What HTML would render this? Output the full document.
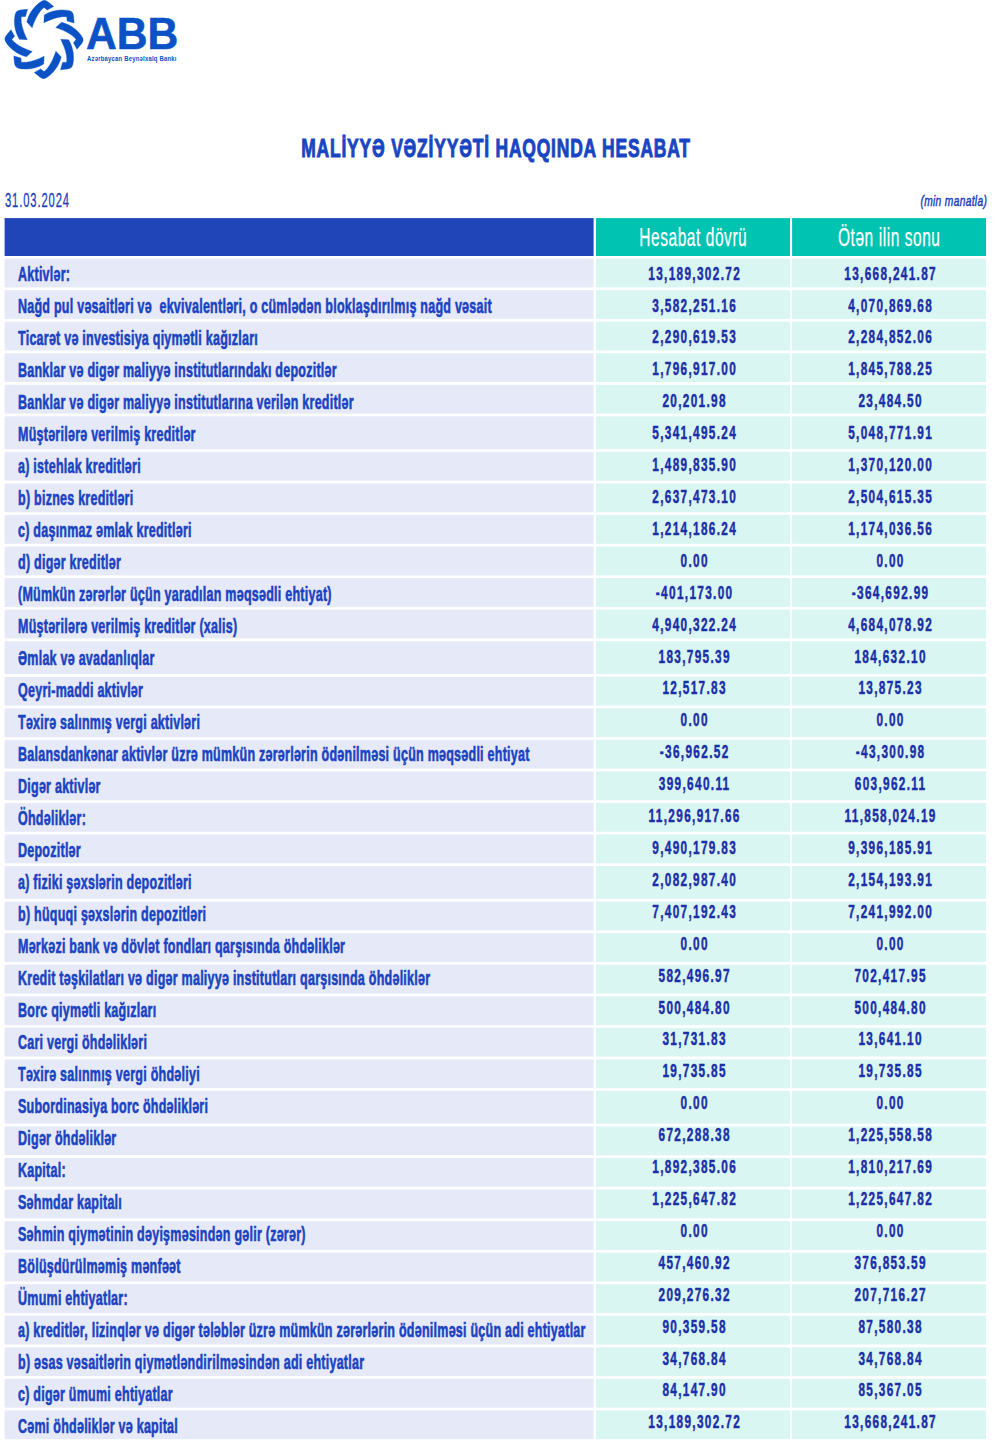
<!DOCTYPE html><html><head><meta charset="utf-8"><style>
html,body{margin:0;padding:0;background:#fff;}
body{width:1000px;height:1441px;position:relative;overflow:hidden;font-family:"Liberation Sans",sans-serif;}
.c{position:absolute;}
.h1{background:#1f45b8;}
.h2{background:#00c3b1;color:#fff;}
.l{background:#e6e9f7;}
.n{background:#daf6f3;}
.t{position:absolute;white-space:pre;font-weight:bold;-webkit-text-stroke:0.5px currentColor;}
.lt{-webkit-text-stroke:0.6px currentColor;letter-spacing:0.4px;left:18px;font-size:20px;line-height:1;color:#1a43c2;transform:scaleX(0.625);transform-origin:0 0;}
.nt{text-align:center;font-size:19px;line-height:1;color:#1a2fa8;transform:scaleX(0.62);letter-spacing:2.16px;text-indent:2.16px;-webkit-text-stroke:0.5px currentColor;}
.ht{-webkit-text-stroke:0.25px currentColor;letter-spacing:0.9px;text-indent:0.9px;text-align:center;font-size:25px;line-height:1;color:#fff;font-weight:normal;transform:scaleX(0.62);}
.title{-webkit-text-stroke:1.0px currentColor;letter-spacing:1.2px;position:absolute;left:-4px;width:1000px;text-align:center;top:134.8px;font-size:26px;line-height:1;font-weight:bold;color:#1a45c2;transform:scaleX(0.672);white-space:pre;}
.date{-webkit-text-stroke:0.3px currentColor;position:absolute;left:5px;top:190px;font-size:20px;letter-spacing:1.59px;line-height:1;color:#1a40bc;transform:scaleX(0.56);transform-origin:0 0;white-space:pre;}
.unit{-webkit-text-stroke:0.5px currentColor;letter-spacing:0.5px;position:absolute;right:13px;top:192.8px;font-size:15px;line-height:1;color:#1a40bc;font-style:italic;transform:scaleX(0.68);transform-origin:100% 0;white-space:pre;}
</style></head><body>
<svg style="position:absolute;left:0;top:0" width="90" height="85" viewBox="0 0 90 85">
<g transform="translate(44 39.5)" fill="#0a52c6" stroke="#0a52c6" stroke-width="0.35" stroke-linejoin="round">
<path d="M -17.2,-17.6 C -15.2,-26.2 -9.2,-34.3 -2,-38.5 Q 1,-40.2 4.2,-37.6 L 9.7,-33 L 3.25,-29.4 L 0,-32.1 C -4.6,-28.6 -8.6,-21.6 -11.9,-11.7 Z"/><path d="M -17.2,-17.6 C -15.2,-26.2 -9.2,-34.3 -2,-38.5 Q 1,-40.2 4.2,-37.6 L 9.7,-33 L 3.25,-29.4 L 0,-32.1 C -4.6,-28.6 -8.6,-21.6 -11.9,-11.7 Z" transform="rotate(45)"/><path d="M -17.2,-17.6 C -15.2,-26.2 -9.2,-34.3 -2,-38.5 Q 1,-40.2 4.2,-37.6 L 9.7,-33 L 3.25,-29.4 L 0,-32.1 C -4.6,-28.6 -8.6,-21.6 -11.9,-11.7 Z" transform="rotate(90)"/><path d="M -17.2,-17.6 C -15.2,-26.2 -9.2,-34.3 -2,-38.5 Q 1,-40.2 4.2,-37.6 L 9.7,-33 L 3.25,-29.4 L 0,-32.1 C -4.6,-28.6 -8.6,-21.6 -11.9,-11.7 Z" transform="rotate(135)"/>
<path d="M -17.2,-17.6 C -15.2,-26.2 -9.2,-34.3 -2,-38.5 Q 1,-40.2 4.2,-37.6 L 9.7,-33 L 3.25,-29.4 L 0,-32.1 C -4.6,-28.6 -8.6,-21.6 -11.9,-11.7 Z" transform="rotate(180)"/><path d="M -17.2,-17.6 C -15.2,-26.2 -9.2,-34.3 -2,-38.5 Q 1,-40.2 4.2,-37.6 L 9.7,-33 L 3.25,-29.4 L 0,-32.1 C -4.6,-28.6 -8.6,-21.6 -11.9,-11.7 Z" transform="rotate(225)"/><path d="M -17.2,-17.6 C -15.2,-26.2 -9.2,-34.3 -2,-38.5 Q 1,-40.2 4.2,-37.6 L 9.7,-33 L 3.25,-29.4 L 0,-32.1 C -4.6,-28.6 -8.6,-21.6 -11.9,-11.7 Z" transform="rotate(270)"/><path d="M -17.2,-17.6 C -15.2,-26.2 -9.2,-34.3 -2,-38.5 Q 1,-40.2 4.2,-37.6 L 9.7,-33 L 3.25,-29.4 L 0,-32.1 C -4.6,-28.6 -8.6,-21.6 -11.9,-11.7 Z" transform="rotate(315)"/>
</g></svg>
<div style="position:absolute;left:86.3px;top:11.3px;font-size:45px;line-height:1;font-weight:bold;color:#0a52c6;-webkit-text-stroke:0.6px #0a52c6;transform:scaleX(0.946);transform-origin:0 0;white-space:pre">ABB</div>
<div style="position:absolute;left:86.8px;top:55px;font-size:7px;line-height:1;font-weight:bold;color:#0a52c6;letter-spacing:0.25px;-webkit-text-stroke:0px;transform:scaleX(0.846);transform-origin:0 0;white-space:pre">Azərbaycan Beynəlxalq Bankı</div>
<div class="title">MALİYYƏ VƏZİYYƏTİ HAQQINDA HESABAT</div>
<div class="date">31.03.2024</div>
<div class="unit">(min manatla)</div>
<svg style="position:absolute;left:0;top:0" width="1000" height="1441"><rect x="4.6" y="218.1" width="589.0" height="37.9" fill="#1f45b8"/><rect x="596" y="218.1" width="194" height="37.9" fill="#00c3b1"/><rect x="792.1" y="218.1" width="193.9" height="37.9" fill="#00c3b1"/><rect x="4.6" y="258.60" width="589.0" height="28.80" fill="#e6e9f7"/><rect x="596" y="258.60" width="194" height="28.80" fill="#daf6f3"/><rect x="792.1" y="258.60" width="193.9" height="28.80" fill="#daf6f3"/><rect x="4.6" y="290.15" width="589.0" height="28.80" fill="#e6e9f7"/><rect x="596" y="290.15" width="194" height="28.80" fill="#daf6f3"/><rect x="792.1" y="290.15" width="193.9" height="28.80" fill="#daf6f3"/><rect x="4.6" y="321.70" width="589.0" height="28.80" fill="#e6e9f7"/><rect x="596" y="321.70" width="194" height="28.80" fill="#daf6f3"/><rect x="792.1" y="321.70" width="193.9" height="28.80" fill="#daf6f3"/><rect x="4.6" y="353.25" width="589.0" height="28.80" fill="#e6e9f7"/><rect x="596" y="353.25" width="194" height="28.80" fill="#daf6f3"/><rect x="792.1" y="353.25" width="193.9" height="28.80" fill="#daf6f3"/><rect x="4.6" y="384.80" width="589.0" height="28.80" fill="#e6e9f7"/><rect x="596" y="384.80" width="194" height="28.80" fill="#daf6f3"/><rect x="792.1" y="384.80" width="193.9" height="28.80" fill="#daf6f3"/><rect x="4.6" y="416.35" width="589.0" height="32.80" fill="#e6e9f7"/><rect x="596" y="416.35" width="194" height="32.80" fill="#daf6f3"/><rect x="792.1" y="416.35" width="193.9" height="32.80" fill="#daf6f3"/><rect x="4.6" y="451.90" width="589.0" height="28.80" fill="#e6e9f7"/><rect x="596" y="451.90" width="194" height="28.80" fill="#daf6f3"/><rect x="792.1" y="451.90" width="193.9" height="28.80" fill="#daf6f3"/><rect x="4.6" y="483.45" width="589.0" height="28.80" fill="#e6e9f7"/><rect x="596" y="483.45" width="194" height="28.80" fill="#daf6f3"/><rect x="792.1" y="483.45" width="193.9" height="28.80" fill="#daf6f3"/><rect x="4.6" y="515.00" width="589.0" height="28.80" fill="#e6e9f7"/><rect x="596" y="515.00" width="194" height="28.80" fill="#daf6f3"/><rect x="792.1" y="515.00" width="193.9" height="28.80" fill="#daf6f3"/><rect x="4.6" y="546.55" width="589.0" height="28.80" fill="#e6e9f7"/><rect x="596" y="546.55" width="194" height="28.80" fill="#daf6f3"/><rect x="792.1" y="546.55" width="193.9" height="28.80" fill="#daf6f3"/><rect x="4.6" y="578.10" width="589.0" height="28.80" fill="#e6e9f7"/><rect x="596" y="578.10" width="194" height="28.80" fill="#daf6f3"/><rect x="792.1" y="578.10" width="193.9" height="28.80" fill="#daf6f3"/><rect x="4.6" y="609.65" width="589.0" height="28.80" fill="#e6e9f7"/><rect x="596" y="609.65" width="194" height="28.80" fill="#daf6f3"/><rect x="792.1" y="609.65" width="193.9" height="28.80" fill="#daf6f3"/><rect x="4.6" y="641.20" width="589.0" height="32.80" fill="#e6e9f7"/><rect x="596" y="641.20" width="194" height="32.80" fill="#daf6f3"/><rect x="792.1" y="641.20" width="193.9" height="32.80" fill="#daf6f3"/><rect x="4.6" y="676.75" width="589.0" height="28.80" fill="#e6e9f7"/><rect x="596" y="676.75" width="194" height="28.80" fill="#daf6f3"/><rect x="792.1" y="676.75" width="193.9" height="28.80" fill="#daf6f3"/><rect x="4.6" y="708.30" width="589.0" height="28.80" fill="#e6e9f7"/><rect x="596" y="708.30" width="194" height="28.80" fill="#daf6f3"/><rect x="792.1" y="708.30" width="193.9" height="28.80" fill="#daf6f3"/><rect x="4.6" y="739.85" width="589.0" height="28.80" fill="#e6e9f7"/><rect x="596" y="739.85" width="194" height="28.80" fill="#daf6f3"/><rect x="792.1" y="739.85" width="193.9" height="28.80" fill="#daf6f3"/><rect x="4.6" y="771.40" width="589.0" height="28.80" fill="#e6e9f7"/><rect x="596" y="771.40" width="194" height="28.80" fill="#daf6f3"/><rect x="792.1" y="771.40" width="193.9" height="28.80" fill="#daf6f3"/><rect x="4.6" y="802.95" width="589.0" height="28.80" fill="#e6e9f7"/><rect x="596" y="802.95" width="194" height="28.80" fill="#daf6f3"/><rect x="792.1" y="802.95" width="193.9" height="28.80" fill="#daf6f3"/><rect x="4.6" y="834.50" width="589.0" height="28.80" fill="#e6e9f7"/><rect x="596" y="834.50" width="194" height="28.80" fill="#daf6f3"/><rect x="792.1" y="834.50" width="193.9" height="28.80" fill="#daf6f3"/><rect x="4.6" y="866.05" width="589.0" height="32.80" fill="#e6e9f7"/><rect x="596" y="866.05" width="194" height="32.80" fill="#daf6f3"/><rect x="792.1" y="866.05" width="193.9" height="32.80" fill="#daf6f3"/><rect x="4.6" y="901.60" width="589.0" height="28.80" fill="#e6e9f7"/><rect x="596" y="901.60" width="194" height="28.80" fill="#daf6f3"/><rect x="792.1" y="901.60" width="193.9" height="28.80" fill="#daf6f3"/><rect x="4.6" y="933.15" width="589.0" height="28.80" fill="#e6e9f7"/><rect x="596" y="933.15" width="194" height="28.80" fill="#daf6f3"/><rect x="792.1" y="933.15" width="193.9" height="28.80" fill="#daf6f3"/><rect x="4.6" y="964.70" width="589.0" height="28.80" fill="#e6e9f7"/><rect x="596" y="964.70" width="194" height="28.80" fill="#daf6f3"/><rect x="792.1" y="964.70" width="193.9" height="28.80" fill="#daf6f3"/><rect x="4.6" y="996.25" width="589.0" height="28.80" fill="#e6e9f7"/><rect x="596" y="996.25" width="194" height="28.80" fill="#daf6f3"/><rect x="792.1" y="996.25" width="193.9" height="28.80" fill="#daf6f3"/><rect x="4.6" y="1027.80" width="589.0" height="28.80" fill="#e6e9f7"/><rect x="596" y="1027.80" width="194" height="28.80" fill="#daf6f3"/><rect x="792.1" y="1027.80" width="193.9" height="28.80" fill="#daf6f3"/><rect x="4.6" y="1059.35" width="589.0" height="28.80" fill="#e6e9f7"/><rect x="596" y="1059.35" width="194" height="28.80" fill="#daf6f3"/><rect x="792.1" y="1059.35" width="193.9" height="28.80" fill="#daf6f3"/><rect x="4.6" y="1090.90" width="589.0" height="32.80" fill="#e6e9f7"/><rect x="596" y="1090.90" width="194" height="32.80" fill="#daf6f3"/><rect x="792.1" y="1090.90" width="193.9" height="32.80" fill="#daf6f3"/><rect x="4.6" y="1126.45" width="589.0" height="28.80" fill="#e6e9f7"/><rect x="596" y="1126.45" width="194" height="28.80" fill="#daf6f3"/><rect x="792.1" y="1126.45" width="193.9" height="28.80" fill="#daf6f3"/><rect x="4.6" y="1158.00" width="589.0" height="28.80" fill="#e6e9f7"/><rect x="596" y="1158.00" width="194" height="28.80" fill="#daf6f3"/><rect x="792.1" y="1158.00" width="193.9" height="28.80" fill="#daf6f3"/><rect x="4.6" y="1189.55" width="589.0" height="28.80" fill="#e6e9f7"/><rect x="596" y="1189.55" width="194" height="28.80" fill="#daf6f3"/><rect x="792.1" y="1189.55" width="193.9" height="28.80" fill="#daf6f3"/><rect x="4.6" y="1221.10" width="589.0" height="28.80" fill="#e6e9f7"/><rect x="596" y="1221.10" width="194" height="28.80" fill="#daf6f3"/><rect x="792.1" y="1221.10" width="193.9" height="28.80" fill="#daf6f3"/><rect x="4.6" y="1252.65" width="589.0" height="28.80" fill="#e6e9f7"/><rect x="596" y="1252.65" width="194" height="28.80" fill="#daf6f3"/><rect x="792.1" y="1252.65" width="193.9" height="28.80" fill="#daf6f3"/><rect x="4.6" y="1284.20" width="589.0" height="28.80" fill="#e6e9f7"/><rect x="596" y="1284.20" width="194" height="28.80" fill="#daf6f3"/><rect x="792.1" y="1284.20" width="193.9" height="28.80" fill="#daf6f3"/><rect x="4.6" y="1315.75" width="589.0" height="28.80" fill="#e6e9f7"/><rect x="596" y="1315.75" width="194" height="28.80" fill="#daf6f3"/><rect x="792.1" y="1315.75" width="193.9" height="28.80" fill="#daf6f3"/><rect x="4.6" y="1347.30" width="589.0" height="28.80" fill="#e6e9f7"/><rect x="596" y="1347.30" width="194" height="28.80" fill="#daf6f3"/><rect x="792.1" y="1347.30" width="193.9" height="28.80" fill="#daf6f3"/><rect x="4.6" y="1378.85" width="589.0" height="28.80" fill="#e6e9f7"/><rect x="596" y="1378.85" width="194" height="28.80" fill="#daf6f3"/><rect x="792.1" y="1378.85" width="193.9" height="28.80" fill="#daf6f3"/><rect x="4.6" y="1410.40" width="589.0" height="28.80" fill="#e6e9f7"/><rect x="596" y="1410.40" width="194" height="28.80" fill="#daf6f3"/><rect x="792.1" y="1410.40" width="193.9" height="28.80" fill="#daf6f3"/></svg>
<div class="t ht" style="left:596px;width:194px;top:225.1px">Hesabat dövrü</div>
<div class="t ht" style="left:792.1px;width:193.9px;top:225.1px">Ötən ilin sonu</div>
<div class="t lt" style="top:263.80px">Aktivlər:</div>
<div class="t nt" style="left:596.5px;width:194px;top:263.60px">13,189,302.72</div>
<div class="t nt" style="left:792.6px;width:193.9px;top:263.60px">13,668,241.87</div>
<div class="t lt" style="top:295.80px">Nağd pul vəsaitləri və  ekvivalentləri, o cümlədən bloklaşdırılmış nağd vəsait</div>
<div class="t nt" style="left:596.5px;width:194px;top:295.51px">3,582,251.16</div>
<div class="t nt" style="left:792.6px;width:193.9px;top:295.51px">4,070,869.68</div>
<div class="t lt" style="top:327.80px">Ticarət və investisiya qiymətli kağızları</div>
<div class="t nt" style="left:596.5px;width:194px;top:327.42px">2,290,619.53</div>
<div class="t nt" style="left:792.6px;width:193.9px;top:327.42px">2,284,852.06</div>
<div class="t lt" style="top:359.80px">Banklar və digər maliyyə institutlarındakı depozitlər</div>
<div class="t nt" style="left:596.5px;width:194px;top:359.33px">1,796,917.00</div>
<div class="t nt" style="left:792.6px;width:193.9px;top:359.33px">1,845,788.25</div>
<div class="t lt" style="top:391.80px">Banklar və digər maliyyə institutlarına verilən kreditlər</div>
<div class="t nt" style="left:596.5px;width:194px;top:391.24px">20,201.98</div>
<div class="t nt" style="left:792.6px;width:193.9px;top:391.24px">23,484.50</div>
<div class="t lt" style="top:423.80px">Müştərilərə verilmiş kreditlər</div>
<div class="t nt" style="left:596.5px;width:194px;top:423.15px">5,341,495.24</div>
<div class="t nt" style="left:792.6px;width:193.9px;top:423.15px">5,048,771.91</div>
<div class="t lt" style="top:455.80px">a) istehlak kreditləri</div>
<div class="t nt" style="left:596.5px;width:194px;top:455.06px">1,489,835.90</div>
<div class="t nt" style="left:792.6px;width:193.9px;top:455.06px">1,370,120.00</div>
<div class="t lt" style="top:487.80px">b) biznes kreditləri</div>
<div class="t nt" style="left:596.5px;width:194px;top:486.97px">2,637,473.10</div>
<div class="t nt" style="left:792.6px;width:193.9px;top:486.97px">2,504,615.35</div>
<div class="t lt" style="top:519.80px">c) daşınmaz əmlak kreditləri</div>
<div class="t nt" style="left:596.5px;width:194px;top:518.88px">1,214,186.24</div>
<div class="t nt" style="left:792.6px;width:193.9px;top:518.88px">1,174,036.56</div>
<div class="t lt" style="top:551.80px">d) digər kreditlər</div>
<div class="t nt" style="left:596.5px;width:194px;top:550.79px">0.00</div>
<div class="t nt" style="left:792.6px;width:193.9px;top:550.79px">0.00</div>
<div class="t lt" style="top:583.80px">(Mümkün zərərlər üçün yaradılan məqsədli ehtiyat)</div>
<div class="t nt" style="left:596.5px;width:194px;top:582.70px">-401,173.00</div>
<div class="t nt" style="left:792.6px;width:193.9px;top:582.70px">-364,692.99</div>
<div class="t lt" style="top:615.80px">Müştərilərə verilmiş kreditlər (xalis)</div>
<div class="t nt" style="left:596.5px;width:194px;top:614.61px">4,940,322.24</div>
<div class="t nt" style="left:792.6px;width:193.9px;top:614.61px">4,684,078.92</div>
<div class="t lt" style="top:647.80px">Əmlak və avadanlıqlar</div>
<div class="t nt" style="left:596.5px;width:194px;top:646.52px">183,795.39</div>
<div class="t nt" style="left:792.6px;width:193.9px;top:646.52px">184,632.10</div>
<div class="t lt" style="top:679.80px">Qeyri-maddi aktivlər</div>
<div class="t nt" style="left:596.5px;width:194px;top:678.43px">12,517.83</div>
<div class="t nt" style="left:792.6px;width:193.9px;top:678.43px">13,875.23</div>
<div class="t lt" style="top:711.80px">Təxirə salınmış vergi aktivləri</div>
<div class="t nt" style="left:596.5px;width:194px;top:710.34px">0.00</div>
<div class="t nt" style="left:792.6px;width:193.9px;top:710.34px">0.00</div>
<div class="t lt" style="top:743.80px">Balansdankənar aktivlər üzrə mümkün zərərlərin ödənilməsi üçün məqsədli ehtiyat</div>
<div class="t nt" style="left:596.5px;width:194px;top:742.25px">-36,962.52</div>
<div class="t nt" style="left:792.6px;width:193.9px;top:742.25px">-43,300.98</div>
<div class="t lt" style="top:775.80px">Digər aktivlər</div>
<div class="t nt" style="left:596.5px;width:194px;top:774.16px">399,640.11</div>
<div class="t nt" style="left:792.6px;width:193.9px;top:774.16px">603,962.11</div>
<div class="t lt" style="top:807.80px">Öhdəliklər:</div>
<div class="t nt" style="left:596.5px;width:194px;top:806.07px">11,296,917.66</div>
<div class="t nt" style="left:792.6px;width:193.9px;top:806.07px">11,858,024.19</div>
<div class="t lt" style="top:839.80px">Depozitlər</div>
<div class="t nt" style="left:596.5px;width:194px;top:837.98px">9,490,179.83</div>
<div class="t nt" style="left:792.6px;width:193.9px;top:837.98px">9,396,185.91</div>
<div class="t lt" style="top:871.80px">a) fiziki şəxslərin depozitləri</div>
<div class="t nt" style="left:596.5px;width:194px;top:869.89px">2,082,987.40</div>
<div class="t nt" style="left:792.6px;width:193.9px;top:869.89px">2,154,193.91</div>
<div class="t lt" style="top:903.80px">b) hüquqi şəxslərin depozitləri</div>
<div class="t nt" style="left:596.5px;width:194px;top:901.80px">7,407,192.43</div>
<div class="t nt" style="left:792.6px;width:193.9px;top:901.80px">7,241,992.00</div>
<div class="t lt" style="top:935.80px">Mərkəzi bank və dövlət fondları qarşısında öhdəliklər</div>
<div class="t nt" style="left:596.5px;width:194px;top:933.71px">0.00</div>
<div class="t nt" style="left:792.6px;width:193.9px;top:933.71px">0.00</div>
<div class="t lt" style="top:967.80px">Kredit təşkilatları və digər maliyyə institutları qarşısında öhdəliklər</div>
<div class="t nt" style="left:596.5px;width:194px;top:965.62px">582,496.97</div>
<div class="t nt" style="left:792.6px;width:193.9px;top:965.62px">702,417.95</div>
<div class="t lt" style="top:999.80px">Borc qiymətli kağızları</div>
<div class="t nt" style="left:596.5px;width:194px;top:997.53px">500,484.80</div>
<div class="t nt" style="left:792.6px;width:193.9px;top:997.53px">500,484.80</div>
<div class="t lt" style="top:1031.80px">Cari vergi öhdəlikləri</div>
<div class="t nt" style="left:596.5px;width:194px;top:1029.44px">31,731.83</div>
<div class="t nt" style="left:792.6px;width:193.9px;top:1029.44px">13,641.10</div>
<div class="t lt" style="top:1063.80px">Təxirə salınmış vergi öhdəliyi</div>
<div class="t nt" style="left:596.5px;width:194px;top:1061.35px">19,735.85</div>
<div class="t nt" style="left:792.6px;width:193.9px;top:1061.35px">19,735.85</div>
<div class="t lt" style="top:1095.80px">Subordinasiya borc öhdəlikləri</div>
<div class="t nt" style="left:596.5px;width:194px;top:1093.26px">0.00</div>
<div class="t nt" style="left:792.6px;width:193.9px;top:1093.26px">0.00</div>
<div class="t lt" style="top:1127.80px">Digər öhdəliklər</div>
<div class="t nt" style="left:596.5px;width:194px;top:1125.17px">672,288.38</div>
<div class="t nt" style="left:792.6px;width:193.9px;top:1125.17px">1,225,558.58</div>
<div class="t lt" style="top:1159.80px">Kapital:</div>
<div class="t nt" style="left:596.5px;width:194px;top:1157.08px">1,892,385.06</div>
<div class="t nt" style="left:792.6px;width:193.9px;top:1157.08px">1,810,217.69</div>
<div class="t lt" style="top:1191.80px">Səhmdar kapitalı</div>
<div class="t nt" style="left:596.5px;width:194px;top:1188.99px">1,225,647.82</div>
<div class="t nt" style="left:792.6px;width:193.9px;top:1188.99px">1,225,647.82</div>
<div class="t lt" style="top:1223.80px">Səhmin qiymətinin dəyişməsindən gəlir (zərər)</div>
<div class="t nt" style="left:596.5px;width:194px;top:1220.90px">0.00</div>
<div class="t nt" style="left:792.6px;width:193.9px;top:1220.90px">0.00</div>
<div class="t lt" style="top:1255.80px">Bölüşdürülməmiş mənfəət</div>
<div class="t nt" style="left:596.5px;width:194px;top:1252.81px">457,460.92</div>
<div class="t nt" style="left:792.6px;width:193.9px;top:1252.81px">376,853.59</div>
<div class="t lt" style="top:1287.80px">Ümumi ehtiyatlar:</div>
<div class="t nt" style="left:596.5px;width:194px;top:1284.72px">209,276.32</div>
<div class="t nt" style="left:792.6px;width:193.9px;top:1284.72px">207,716.27</div>
<div class="t lt" style="top:1319.80px">a) kreditlər, lizinqlər və digər tələblər üzrə mümkün zərərlərin ödənilməsi üçün adi ehtiyatlar</div>
<div class="t nt" style="left:596.5px;width:194px;top:1316.63px">90,359.58</div>
<div class="t nt" style="left:792.6px;width:193.9px;top:1316.63px">87,580.38</div>
<div class="t lt" style="top:1351.80px">b) əsas vəsaitlərin qiymətləndirilməsindən adi ehtiyatlar</div>
<div class="t nt" style="left:596.5px;width:194px;top:1348.54px">34,768.84</div>
<div class="t nt" style="left:792.6px;width:193.9px;top:1348.54px">34,768.84</div>
<div class="t lt" style="top:1383.80px">c) digər ümumi ehtiyatlar</div>
<div class="t nt" style="left:596.5px;width:194px;top:1380.45px">84,147.90</div>
<div class="t nt" style="left:792.6px;width:193.9px;top:1380.45px">85,367.05</div>
<div class="t lt" style="top:1415.80px">Cəmi öhdəliklər və kapital</div>
<div class="t nt" style="left:596.5px;width:194px;top:1412.36px">13,189,302.72</div>
<div class="t nt" style="left:792.6px;width:193.9px;top:1412.36px">13,668,241.87</div>
</body></html>
